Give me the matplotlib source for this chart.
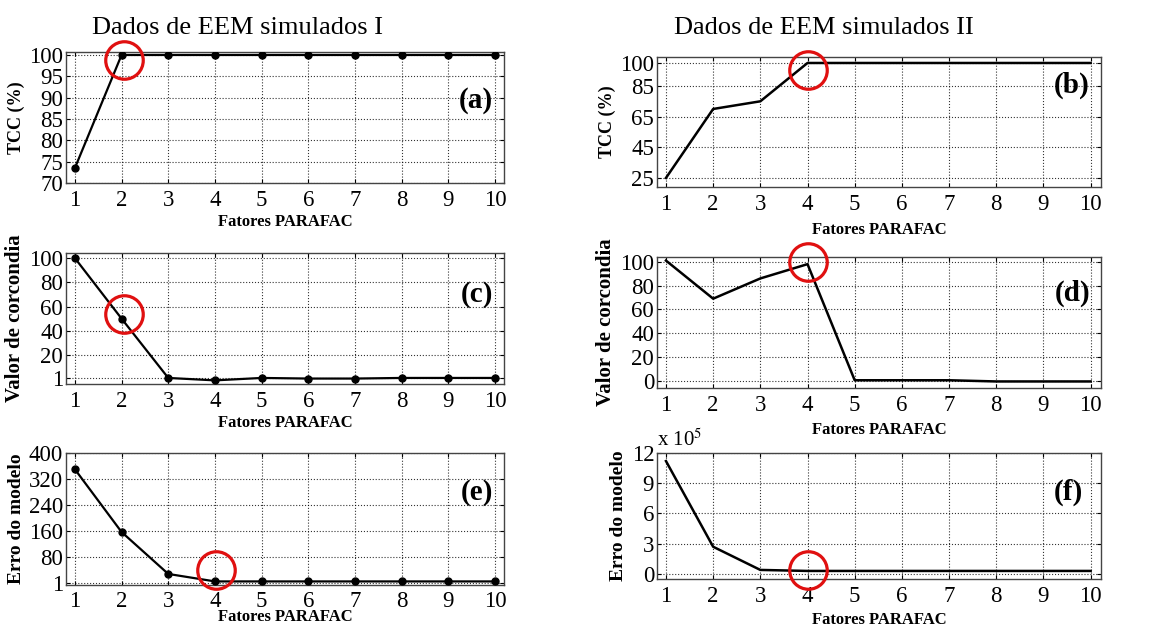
import numpy as np
import matplotlib
matplotlib.use('Agg')
import matplotlib.pyplot as plt
from matplotlib.ticker import FuncFormatter

plt.rcParams['font.family'] = ['Liberation Serif', 'DejaVu Serif']
plt.rcParams['mathtext.fontset'] = 'stix'

# --- data ------------------------------------------------------------------
factors = [1, 2, 3, 4, 5, 6, 7, 8, 9, 10]

tcc_I   = [73.5, 100, 100, 100, 100, 100, 100, 100, 100, 100]
tcc_II  = [25, 70, 75, 100, 100, 100, 100, 100, 100, 100]
corc_I  = [100, 50, 1, -1, 1, 0.5, 0.5, 1, 1, 1]
corc_II = [101, 69, 86, 98, 0.5, 0.5, 0.5, -0.5, -0.5, -0.5]
err_I   = [350, 157, 28, 5, 5, 5, 5, 5, 5, 5]
err_II  = [11.2e5, 2.7e5, 0.4e5, 0.3e5, 0.3e5, 0.3e5, 0.3e5, 0.3e5, 0.3e5, 0.3e5]

# highlighted (red circle) points
circle_x = {'a': 2.05, 'b': 4.0, 'c': 2.05, 'd': 4.0, 'e': 4.02, 'f': 4.0}
circle_y = {'a': 98.8, 'b': 95.4, 'c': 54, 'd': 100, 'e': 40, 'f': 0.4e5}

yticks = {
    'a': [70, 75, 80, 85, 90, 95, 100],
    'b': [25, 45, 65, 85, 100],
    'c': [1, 20, 40, 60, 80, 100],
    'd': [0, 20, 40, 60, 80, 100],
    'e': [1, 80, 160, 240, 320, 400],
    'f': [0, 3e5, 6e5, 9e5, 12e5],
}
ylims = {
    'a': (70, 100.7), 'b': (19.1, 103.9), 'c': (-4, 104.2),
    'd': (-6, 104), 'e': (-6, 400), 'f': (-0.5e5, 12e5),
}

fig = plt.figure(figsize=(11.54, 6.28), dpi=100)
W, H = 1154, 628


def add_axes(l, t, r, b):
    return fig.add_axes([l / W, 1 - b / H, (r - l) / W, (b - t) / H])


panels = [
    # key, box (px), series, markers, ylabel, ylabel size, xlim, label pos, tick pad, xlabel pad
    ('a', (66, 52, 504, 183),    tcc_I,   True,  'TCC (%)',            13,   (0.81, 10.19), (0.975, 0.63),  5, 2),
    ('b', (657, 57, 1101, 187),  tcc_II,  False, 'TCC (%)',            13,   (0.81, 10.22), (0.975, 0.785), 5, 5),
    ('c', (66, 253, 504, 384),   corc_I,  True,  'Valor de corcondia', 15,   (0.81, 10.19), (0.975, 0.68),  5, 2),
    ('d', (657, 257, 1101, 388), corc_II, False, 'Valor de corcondia', 15,   (0.81, 10.22), (0.975, 0.725), 5, 4),
    ('e', (66, 453, 504, 585),   err_I,   True,  'Erro do modelo',     14,   (0.81, 10.19), (0.975, 0.70),  4, -1.5),
    ('f', (657, 453, 1101, 579), err_II,  False, 'Erro do modelo',     14,   (0.81, 10.22), (0.96, 0.69),   5, 4),
]

for key, box, series, markers, ylabel, yl_size, xlim, lpos, tpad, xlpad in panels:
    ax = add_axes(*box)
    if markers:
        ax.plot(factors, series, '-', color='black', lw=1.6,
                marker='o', ms=5, mfc='black', mec='black', zorder=3)
    else:
        ax.plot(factors, series, '-', color='black', lw=1.8, zorder=3)
    ax.plot([circle_x[key]], [circle_y[key]], marker='o', ms=27,
            mfc='none', mec='#e01010', mew=2.3, ls='none', zorder=4,
            clip_on=False)

    ax.set_xlim(*xlim)
    ax.set_ylim(*ylims[key])
    ax.set_xticks(factors)
    ax.set_yticks(yticks[key])
    if key == 'f':
        ax.yaxis.set_major_formatter(FuncFormatter(lambda v, p: f'{v / 1e5:.0f}'))
        ax.text(0.0, 1.015, r'x 10$^5$', transform=ax.transAxes,
                ha='left', va='bottom', fontsize=15)

    ax.grid(True, linestyle=':', color='black', lw=0.8, alpha=0.8)
    ax.tick_params(direction='in', length=3, labelsize=16.5,
                   top=True, right=True)
    ax.tick_params(axis='x', pad=tpad)
    ax.tick_params(axis='y', pad=2)
    for s in ax.spines.values():
        s.set_color('#444444')
        s.set_linewidth(1.0)

    ax.set_xlabel('Fatores PARAFAC', fontsize=12, fontweight='bold', labelpad=xlpad)
    ax.set_ylabel(ylabel, fontsize=yl_size, fontweight='bold', labelpad=3)
    ax.text(lpos[0], lpos[1], f'({key})', transform=ax.transAxes,
            ha='right', va='center', fontsize=21, fontweight='bold')

fig.text(237 / W, 1 - 28 / H, 'Dados de EEM simulados I',
         ha='center', va='center', fontsize=19)
fig.text(824 / W, 1 - 28 / H, 'Dados de EEM simulados II',
         ha='center', va='center', fontsize=19)

fig.savefig('out.png', dpi=100)
